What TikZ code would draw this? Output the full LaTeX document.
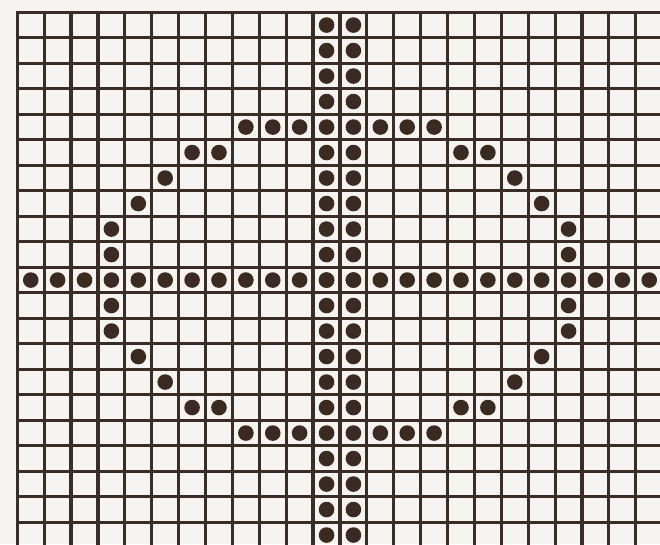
\documentclass[tikz,border=0pt]{standalone}
\definecolor{ink}{HTML}{3A2C27}
\definecolor{dotink}{HTML}{3A2A22}
\definecolor{paper}{HTML}{F6F4F1}
\begin{document}
\begin{tikzpicture}[x=1pt,y=-1pt,
  gridline/.style={draw=ink,line width=3.2pt},
  bead/.style={fill=dotink}]
\fill[paper] (0,0) rectangle (660,544);
\useasboundingbox (0,0) rectangle (660,544);
\clip (0,0) rectangle (660,544);
% grid
\foreach \k in {0,...,24}
  \draw[gridline] ({17.3+26.89*\k},10.7) -- ({17.3+26.89*\k},560);
\foreach \k in {0,...,21}
  \draw[gridline] (15.7,{12.3+25.5*\k}) -- (680,{12.3+25.5*\k});
% central vertical band (columns 11 and 12)
\foreach \r in {0,...,21}
  \foreach \c in {11,12}
    \fill[bead] ({17.3+26.89*(\c+0.5)},{12.3+25.5*(\r+0.5)}) circle (7.8);
% central horizontal row (row 10)
\foreach \c in {0,...,23}
  \fill[bead] ({17.3+26.89*(\c+0.5)},{12.3+25.5*(10+0.5)}) circle (7.8);
% ring
\foreach \c/\r in {8/4,9/4,10/4,13/4,14/4,15/4,
                   6/5,7/5,16/5,17/5,
                   5/6,18/6, 4/7,19/7, 3/8,20/8, 3/9,20/9,
                   3/11,20/11, 3/12,20/12, 4/13,19/13, 5/14,18/14,
                   6/15,7/15,16/15,17/15,
                   8/16,9/16,10/16,13/16,14/16,15/16}
  \fill[bead] ({17.3+26.89*(\c+0.5)},{12.3+25.5*(\r+0.5)}) circle (7.8);
\end{tikzpicture}
\end{document}
